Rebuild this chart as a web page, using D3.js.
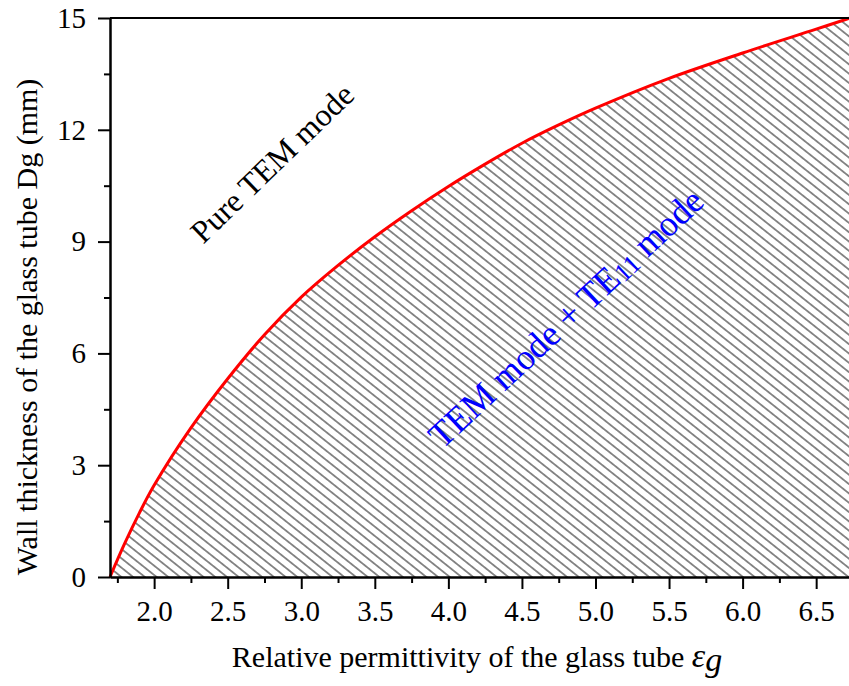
<!DOCTYPE html>
<html>
<head>
<meta charset="utf-8">
<script src="https://cdn.jsdelivr.net/npm/d3@7"></script>
<style>
  html, body { margin: 0; padding: 0; background: #fff; }
  svg { display: block; }
  text { font-family: "Liberation Serif", "Times New Roman", serif; }
</style>
</head>
<body>
<script>
// ---- data ----
const permittivity = [1.7, 1.8, 1.9, 2.0, 2.25, 2.5, 2.75, 3.0, 3.25, 3.5, 3.75, 4.0, 4.25, 4.5, 4.75, 5.0, 5.5, 6.0, 6.5, 6.73];
const wallThickness = [0, 0.9, 1.72, 2.46, 4.0, 5.32, 6.5, 7.51, 8.36, 9.13, 9.83, 10.48, 11.08, 11.64, 12.13, 12.58, 13.38, 14.06, 14.7, 15.0];
const xMajorTicks = [2.0, 2.5, 3.0, 3.5, 4.0, 4.5, 5.0, 5.5, 6.0, 6.5];
const xMinorTicks = [1.75, 2.25, 2.75, 3.25, 3.75, 4.25, 4.75, 5.25, 5.75, 6.25, 6.75];
const yMajorTicks = [0, 3, 6, 9, 12, 15];
const yMinorTicks = [1.5, 4.5, 7.5, 10.5, 13.5];
const xTitle = "Relative permittivity of the glass tube ";
const yTitle = "Wall thickness of the glass tube Dg (mm)";
const regionLabelUpper = "Pure TEM mode";

const W = 849, H = 686;
const svg = d3.select("body").append("svg").attr("width", W).attr("height", H);

const x = d3.scaleLinear().domain([1.7, 6.73]).range([110, 850]);
const y = d3.scaleLinear().domain([0, 15]).range([577, 18]);

const data = permittivity.map((e, i) => ({ e, d: wallThickness[i] }));

// hatch pattern
const defs = svg.append("defs");
const pat = defs.append("pattern")
  .attr("id", "hatch")
  .attr("patternUnits", "userSpaceOnUse")
  .attr("width", 20).attr("height", 7.3)
  .attr("patternTransform", "rotate(38.5)");
pat.append("line")
  .attr("x1", 0).attr("x2", 20).attr("y1", 3.65).attr("y2", 3.65)
  .attr("stroke", "#1a1a1a").attr("stroke-width", 1);

// hatched area
const area = d3.area().x(p => x(p.e)).y0(y(0)).y1(p => y(p.d)).curve(d3.curveCatmullRom);
svg.append("path").datum(data).attr("d", area).attr("fill", "url(#hatch)");

// curve
const line = d3.line().x(p => x(p.e)).y(p => y(p.d)).curve(d3.curveCatmullRom);
svg.append("path").datum(data).attr("d", line)
  .attr("fill", "none").attr("stroke", "#ff0000").attr("stroke-width", 3);

// axes
function styleAxis(g) {
  g.selectAll("path.domain").attr("stroke", "#000").attr("stroke-width", 2);
  g.selectAll(".tick line").attr("stroke", "#000").attr("stroke-width", 2);
  g.selectAll("text").attr("font-family", "'Liberation Serif', 'Times New Roman', serif")
    .attr("font-size", 29).attr("fill", "#000");
}

const gxMinor = svg.append("g").attr("transform", `translate(0,${y(0)})`)
  .call(d3.axisBottom(x).tickValues(xMinorTicks).tickSize(6).tickSizeOuter(0).tickFormat(""));
styleAxis(gxMinor);
const gx = svg.append("g").attr("transform", `translate(0,${y(0)})`)
  .call(d3.axisBottom(x).tickValues(xMajorTicks).tickSize(12).tickSizeOuter(0).tickPadding(11).tickFormat(d3.format(".1f")));
styleAxis(gx);

const gyMinor = svg.append("g").attr("transform", `translate(${x(1.7)},0)`)
  .call(d3.axisLeft(y).tickValues(yMinorTicks).tickSize(6).tickSizeOuter(0).tickFormat(""));
styleAxis(gyMinor);
const gy = svg.append("g").attr("transform", `translate(${x(1.7)},0)`)
  .call(d3.axisLeft(y).tickValues(yMajorTicks).tickSize(12).tickSizeOuter(0).tickPadding(12).tickFormat(d3.format("d")));
styleAxis(gy);

// top frame line
svg.append("line").attr("x1", x(1.7)).attr("x2", 850).attr("y1", y(15)).attr("y2", y(15))
  .attr("stroke", "#000").attr("stroke-width", 2);

// axis titles
const xt = svg.append("text").attr("x", 477).attr("y", 667)
  .attr("text-anchor", "middle").attr("font-size", 30).attr("fill", "#000");
xt.append("tspan").text(xTitle);
xt.append("tspan").attr("font-style", "italic").attr("font-size", 34).text("ε");
xt.append("tspan").attr("font-style", "italic").attr("font-size", 34).attr("dy", 4).text("g");

svg.append("text")
  .attr("transform", `translate(37,${327}) rotate(-90)`)
  .attr("text-anchor", "middle").attr("font-size", 30).attr("fill", "#000")
  .text(yTitle);

// region labels
svg.append("text")
  .attr("transform", `translate(272,163) rotate(-44)`)
  .attr("text-anchor", "middle").attr("dominant-baseline", "central")
  .attr("font-size", 32).attr("fill", "#000")
  .text(regionLabelUpper);

const lower = svg.append("text")
  .attr("transform", `translate(566,318) rotate(-43)`)
  .attr("text-anchor", "middle").attr("dominant-baseline", "central")
  .attr("font-size", 36).attr("fill", "#0000ff");
lower.append("tspan").text("TEM mode + TE");
lower.append("tspan").attr("font-size", 26).attr("dy", 5).text("11");
lower.append("tspan").attr("dy", -5).text(" mode");
</script>
</body>
</html>
